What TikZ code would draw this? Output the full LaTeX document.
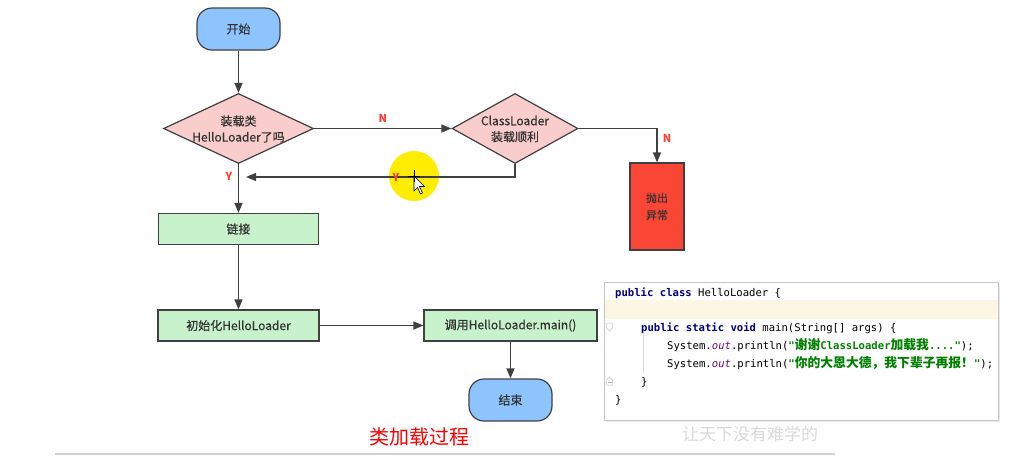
\documentclass[tikz,border=0pt]{standalone}
\usepackage{fontspec}
\setmainfont{Noto Sans CJK SC}
\newfontfamily\cjk{Noto Sans CJK SC}
\newfontfamily\flowfont{Noto Sans CJK SC}[FakeBold=0.5]
\setmonofont{DejaVu Sans Mono}
\usetikzlibrary{shapes.geometric,arrows.meta}
\definecolor{linec}{HTML}{404040}
\definecolor{txtc}{HTML}{333333}
\definecolor{termblue}{HTML}{8EC4FE}
\definecolor{decpink}{HTML}{F9CDCB}
\definecolor{procgreen}{HTML}{C8F2CC}
\definecolor{errred}{HTML}{FA4634}
\definecolor{labred}{HTML}{FF3B30}
\definecolor{kwnavy}{HTML}{000080}
\definecolor{fieldpurple}{HTML}{660E7A}
\definecolor{strgreen}{HTML}{008000}
\definecolor{hilite}{HTML}{FDF6E2}
\newcommand{\cj}[1]{{\cjk\fontsize{12.8}{14}\selectfont #1}}
\newcommand{\kw}[1]{{\color{kwnavy}\bfseries #1}}
\newcommand{\strg}[1]{{\color{strgreen}\bfseries #1}}
\newcommand{\fld}[1]{{\color{fieldpurple}\itshape #1}}
\begin{document}
\begin{tikzpicture}[x=1pt,y=-1pt,
  every node/.style={text=txtc},
  term/.style={draw=linec, line width=1.2pt, fill=termblue, rounded corners=15pt,
    minimum width=83pt, minimum height=42pt, inner sep=0pt, font=\flowfont\fontsize{12}{14}\selectfont},
  dec/.style={draw=linec, line width=1.2pt, fill=decpink, diamond, inner sep=0pt, minimum height=70pt},
  dectext/.style={align=center, font=\flowfont\fontsize{12}{16}\selectfont, inner sep=0pt},
  proc/.style={draw=linec, line width=1.2pt, fill=procgreen, minimum height=31pt, inner sep=0pt,
    font=\flowfont\fontsize{12}{14}\selectfont},
  errbox/.style={draw=linec, line width=1.2pt, fill=errred, minimum width=54pt, minimum height=87pt,
    inner sep=0pt, align=center, font=\flowfont\fontsize{11}{17}\selectfont},
  flow/.style={draw=linec, line width=1.4pt, -{Triangle[length=10pt,width=8pt]}},
  yn/.style={text=labred, font=\fontsize{11}{12}\selectfont\bfseries, inner sep=0pt},
  code/.style={anchor=base west, inner sep=0pt, text=black, font=\ttfamily\fontsize{10.6}{18}\selectfont}
]
\useasboundingbox (0,0) rectangle (1014,456);

% cursor highlight
\fill[yellow!95!orange] (414,176) circle (25);

% nodes
\node[term] (start) at (238.5,29) {开始};
\node[dec, minimum width=150pt] (d1) at (238.5,128.5) {};
\node[dectext] (d1t) at (238.5,129) {装载类\\HelloLoader了吗};
\node[dec, minimum width=126pt] (d2) at (515,128.5) {};
\node[dectext] (d2t) at (515,129) {ClassLoader\\装载顺利};
\node[errbox] (err) at (657,206.5) {抛出\\异常};
\node[proc, minimum width=160pt] (link) at (238.5,229) {链接};
\node[proc, minimum width=161pt] (init) at (238.5,325.5) {初始化HelloLoader};
\node[proc, minimum width=173pt] (call) at (510.5,325.5) {调用HelloLoader.main()};
\node[term] (end) at (510.5,400) {结束};
\coordinate (yj) at (246,177);

% connectors
\draw[flow] (start) -- (d1);
\draw[flow] (d1.east) -- node[yn, above=5pt] (n1) {N} (d2.west);
\draw[flow] (d2.east) -| (err.north);
\node[yn] (n2) at (667,138) {N};
\draw[flow] (d2.south) |- (yj);
\node[yn] (y2) at (396,177) {Y};
\node[yn] (y1) at (229,176) {Y};
\draw[flow] (d1.south) -- (link.north);
\draw[flow] (link) -- (init);
\draw[flow] (init) -- (call);
\draw[flow] (call) -- (end);

% cursor
\draw[black, line width=0.6pt, fill=white] (414,176) -- (414,191) -- (417.5,187.5) -- (420.5,194) -- (422.5,193) -- (419.5,186.5) -- (424.5,186.5) -- cycle;
\draw[black, line width=0.8pt] (408,176) -- (420,176) (414,170) -- (414,182);

% caption
\node[text=red, font=\fontsize{20}{22}\selectfont, inner sep=0pt] (cap) at (419,437) {类加载过程};
\draw[gray!35, line width=1.2pt] (55,454) -- (835,454);

% watermark
\node[text=gray!30, font=\fontsize{17}{18}\selectfont, inner sep=0pt, anchor=west] (wm) at (682,434) {让天下没有难学的};

% code box
\fill[gray!18] (606,284) rectangle (1000,422);
\draw[gray!45, line width=0.6pt, fill=white] (604,282) rectangle (998,420);
\fill[hilite] (604.5,300) rectangle (997.5,318.5);
\draw[gray!30, line width=0.5pt] (643.5,334) -- (643.5,373);
\draw[gray!45, line width=0.5pt, fill=white] (606.5,323) -- (612.5,323) -- (612.5,328) -- (609.5,331) -- (606.5,328) -- cycle;
\draw[gray!45, line width=0.5pt, fill=white] (606.5,385) -- (612.5,385) -- (612.5,380) -- (609.5,377) -- (606.5,380) -- cycle;
\draw[gray!55, line width=0.4pt] (607.5,382) -- (611.5,382);

\node[code] (c1) at (615,296) {\kw{public class} HelloLoader \{};
\node[code] (c3) at (641,331) {\kw{public static void} main(String[] args) \{};
\node[code] (c4) at (667,349) {System.\fld{out}.println(\strg{"\cj{谢谢}ClassLoader\cj{加载我}...."});};
\node[code] (c5) at (667,367) {System.\fld{out}.println(\strg{"\cj{你的大恩大德，我下辈子再报！}"});};
\node[code] (c6) at (641,385) {\}};
\node[code] (c7) at (615,403) {\}};
\end{tikzpicture}
\end{document}
